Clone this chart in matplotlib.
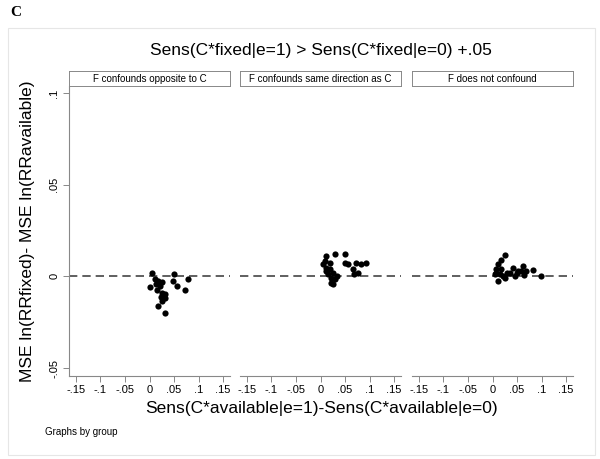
import numpy as np
import matplotlib
matplotlib.use("Agg")
import matplotlib.pyplot as plt
from matplotlib.patches import Rectangle
from matplotlib.ticker import FuncFormatter

plt.rcParams['font.family'] = ['Liberation Sans', 'DejaVu Sans']

groups = ["F confounds opposite to C", "F confounds same direction as C", "F does not confound"]

# panel 1: F confounds opposite to C
x1 = [0.006, 0.050, 0.078, 0.047, 0.057, 0.073, 0.001, 0.011, 0.018, 0.026, 0.013,
      0.021, 0.016, 0.025, 0.031, 0.023, 0.031, 0.026, 0.018, 0.031]
y1 = [0.0020, 0.0015, -0.0013, -0.0025, -0.0053, -0.0076, -0.0060, -0.0016, -0.0025, -0.0030, -0.0043,
      -0.0053, -0.0074, -0.0089, -0.0098, -0.0110, -0.0120, -0.0134, -0.0160, -0.0200]

# panel 2: F confounds same direction as C
x2 = [0.029, 0.049, 0.012, 0.009, 0.019, 0.049, 0.056, 0.073, 0.083, 0.093, 0.066, 0.076,
      0.069, 0.012, 0.019, 0.016, 0.026, 0.022, 0.029, 0.022, 0.026, 0.006, 0.033, 0.012]
y2 = [0.0120, 0.0123, 0.0110, 0.0083, 0.0074, 0.0074, 0.0065, 0.0074, 0.0065, 0.0074, 0.0038, 0.0020,
      0.0015, 0.0047, 0.0038, 0.0011, 0.0020, -0.0007, -0.0016, -0.0034, -0.0043, 0.0065, 0.0002, 0.0030]

# panel 3: F does not confound
x3 = [0.025, 0.018, 0.012, 0.007, 0.008, 0.015, 0.022, 0.012, 0.025, 0.042, 0.049, 0.045,
      0.062, 0.065, 0.059, 0.069, 0.082, 0.099, 0.052, 0.005, 0.035, 0.029, 0.018]
y3 = [0.0116, 0.0092, 0.0065, 0.0038, 0.0020, 0.0011, 0.0002, -0.0025, -0.0007, 0.0047, 0.0020, 0.0002,
      0.0056, 0.0005, 0.0029, 0.0029, 0.0034, 0.0002, 0.0029, 0.0011, 0.0020, 0.0020, 0.0038]

xs = [x1, x2, x3]
ys = [y1, y2, y3]

xticks = [-0.15, -0.1, -0.05, 0, 0.05, 0.1, 0.15]
yticks = [-0.05, 0, 0.05, 0.1]


def stata_fmt(v, pos=None):
    if abs(v) < 1e-9:
        return "0"
    s = ("%g" % v)
    return s.replace("0.", ".")


W, H = 600, 459
fig = plt.figure(figsize=(6, 4.59), dpi=100)

# outer light frame
fig.patches.append(Rectangle((8 / W, 1 - 455 / H), 587 / W, 427 / H, transform=fig.transFigure,
                             fill=False, edgecolor='#e6e6e6', linewidth=0.8))

fig.text(10 / W, 1 - 12 / H, "C", fontsize=11, fontweight='bold', family='Liberation Serif',
         ha='left', va='center')

lefts = [69, 240, 412]
pw = 161
top, bottom = 86, 376
gray = '#888888'

for i in range(3):
    ax = fig.add_axes([lefts[i] / W, 1 - bottom / H, pw / W, (bottom - top) / H])
    ax.scatter(xs[i], ys[i], s=20, color='black', zorder=3, linewidths=0)
    ax.axhline(0, color='#444444', linestyle=(0, (5, 3)), linewidth=1.2, zorder=2)
    ax.set_xlim(-0.164, 0.164)
    ax.set_ylim(-0.0543, 0.1038)
    ax.set_xticks(xticks)
    ax.xaxis.set_major_formatter(FuncFormatter(stata_fmt))
    for sp in ['top', 'right']:
        ax.spines[sp].set_visible(False)
    ax.spines['bottom'].set_color(gray)
    ax.spines['bottom'].set_linewidth(0.8)
    ax.tick_params(axis='x', colors=gray, labelcolor='black', labelsize=8, length=4, width=0.7, pad=2.5)
    if i == 0:
        ax.set_yticks(yticks)
        ax.yaxis.set_major_formatter(FuncFormatter(stata_fmt))
        ax.spines['left'].set_color(gray)
        ax.spines['left'].set_linewidth(0.8)
        ax.tick_params(axis='y', colors=gray, labelcolor='black', labelsize=8, length=4, width=0.7, pad=3)
        for lab in ax.get_yticklabels():
            lab.set_rotation(90)
            lab.set_va('center')
    else:
        ax.spines['left'].set_visible(False)
        ax.set_yticks([])

    # strip header
    sax = fig.add_axes([lefts[i] / W, 1 - top / H, pw / W, 15 / H])
    sax.set_xticks([])
    sax.set_yticks([])
    for sp in sax.spines.values():
        sp.set_color(gray)
        sp.set_linewidth(0.7)
    sax.text(0.5, 0.5, groups[i], ha='center', va='center', fontsize=7, transform=sax.transAxes)

fig.text(321 / W, 1 - 50 / H, "Sens(C*fixed|e=1) > Sens(C*fixed|e=0) +.05", ha='center', va='center',
         fontsize=12.5)
fig.text(321 / W, 1 - 408 / H, "Sens(C*available|e=1)-Sens(C*available|e=0)", ha='center', va='center',
         fontsize=12.5)
fig.text(28 / W, 1 - (top + bottom) / 2 / H, "MSE ln(RRfixed)- MSE ln(RRavailable)", ha='center',
         va='center', rotation=90, fontsize=12.5)
fig.text(45 / W, 1 - 432 / H, "Graphs by group", ha='left', va='center', fontsize=7)

fig.savefig("out.png", dpi=100)
